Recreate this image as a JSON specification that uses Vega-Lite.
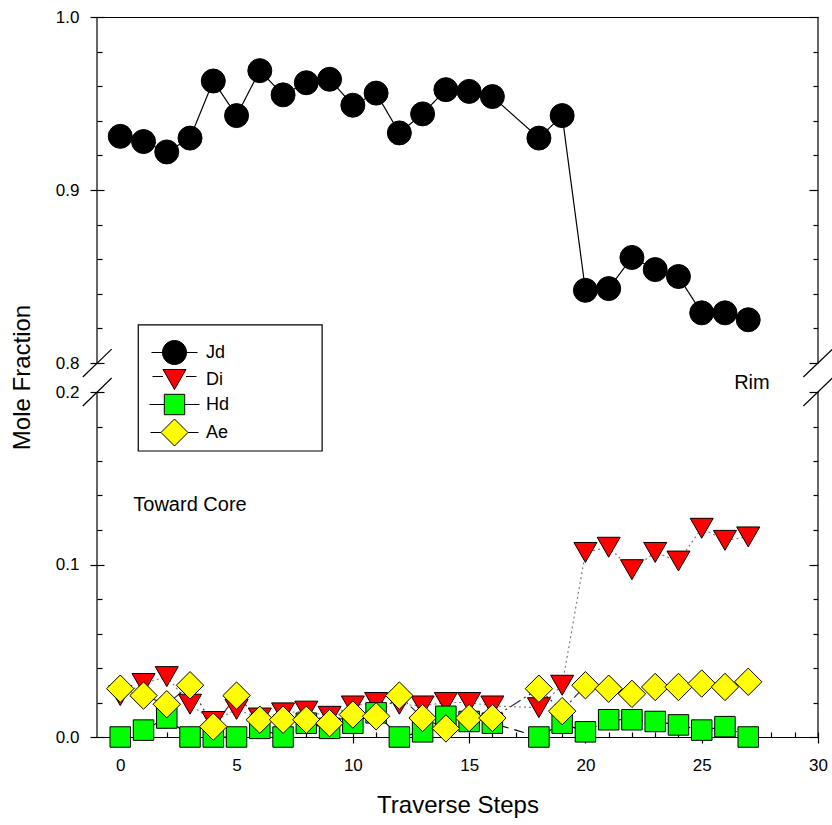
{
  "$schema": "https://vega.github.io/schema/vega-lite/v6.json",
  "width": 721,
  "height": 720,
  "autosize": {"type": "none"},
  "padding": {"left": 97, "top": 17, "right": 14, "bottom": 88},
  "background": "white",
  "config": {
    "view": {"stroke": null},
    "font": "Liberation Sans",
    "axis": {"grid": false, "domainColor": "black", "tickColor": "black", "labelColor": "black", "titleColor": "black", "labelFont": "Liberation Sans", "titleFont": "Liberation Sans", "titleFontWeight": "normal", "domainWidth": 1.2, "tickWidth": 1.2},
    "legend": {"labelFont": "Liberation Sans", "labelColor": "black"}
  },
  "datasets": {
    "main": [
      {"step": 0, "series": "Jd", "value": 0.931}, {"step": 1, "series": "Jd", "value": 0.928}, {"step": 2, "series": "Jd", "value": 0.922}, {"step": 3, "series": "Jd", "value": 0.930}, {"step": 4, "series": "Jd", "value": 0.963}, {"step": 5, "series": "Jd", "value": 0.943}, {"step": 6, "series": "Jd", "value": 0.969}, {"step": 7, "series": "Jd", "value": 0.955}, {"step": 8, "series": "Jd", "value": 0.962}, {"step": 9, "series": "Jd", "value": 0.964}, {"step": 10, "series": "Jd", "value": 0.949}, {"step": 11, "series": "Jd", "value": 0.956}, {"step": 12, "series": "Jd", "value": 0.933}, {"step": 13, "series": "Jd", "value": 0.944}, {"step": 14, "series": "Jd", "value": 0.958}, {"step": 15, "series": "Jd", "value": 0.957}, {"step": 16, "series": "Jd", "value": 0.954}, {"step": 18, "series": "Jd", "value": 0.930}, {"step": 19, "series": "Jd", "value": 0.943}, {"step": 20, "series": "Jd", "value": 0.842}, {"step": 21, "series": "Jd", "value": 0.843}, {"step": 22, "series": "Jd", "value": 0.861}, {"step": 23, "series": "Jd", "value": 0.854}, {"step": 24, "series": "Jd", "value": 0.850}, {"step": 25, "series": "Jd", "value": 0.829}, {"step": 26, "series": "Jd", "value": 0.829}, {"step": 27, "series": "Jd", "value": 0.825},
      {"step": 0, "series": "Di", "value": 0.024}, {"step": 1, "series": "Di", "value": 0.031}, {"step": 2, "series": "Di", "value": 0.035}, {"step": 3, "series": "Di", "value": 0.019}, {"step": 4, "series": "Di", "value": 0.009}, {"step": 5, "series": "Di", "value": 0.016}, {"step": 6, "series": "Di", "value": 0.011}, {"step": 7, "series": "Di", "value": 0.014}, {"step": 8, "series": "Di", "value": 0.015}, {"step": 9, "series": "Di", "value": 0.012}, {"step": 10, "series": "Di", "value": 0.018}, {"step": 11, "series": "Di", "value": 0.020}, {"step": 12, "series": "Di", "value": 0.019}, {"step": 13, "series": "Di", "value": 0.018}, {"step": 14, "series": "Di", "value": 0.020}, {"step": 15, "series": "Di", "value": 0.020}, {"step": 16, "series": "Di", "value": 0.018}, {"step": 18, "series": "Di", "value": 0.017}, {"step": 19, "series": "Di", "value": 0.030}, {"step": 20, "series": "Di", "value": 0.107}, {"step": 21, "series": "Di", "value": 0.110}, {"step": 22, "series": "Di", "value": 0.097}, {"step": 23, "series": "Di", "value": 0.107}, {"step": 24, "series": "Di", "value": 0.102}, {"step": 25, "series": "Di", "value": 0.121}, {"step": 26, "series": "Di", "value": 0.114}, {"step": 27, "series": "Di", "value": 0.116},
      {"step": 0, "series": "Hd", "value": 0.000}, {"step": 1, "series": "Hd", "value": 0.004}, {"step": 2, "series": "Hd", "value": 0.011}, {"step": 3, "series": "Hd", "value": 0.000}, {"step": 4, "series": "Hd", "value": 0.000}, {"step": 5, "series": "Hd", "value": 0.000}, {"step": 6, "series": "Hd", "value": 0.005}, {"step": 7, "series": "Hd", "value": 0.000}, {"step": 8, "series": "Hd", "value": 0.008}, {"step": 9, "series": "Hd", "value": 0.005}, {"step": 10, "series": "Hd", "value": 0.008}, {"step": 11, "series": "Hd", "value": 0.014}, {"step": 12, "series": "Hd", "value": 0.000}, {"step": 13, "series": "Hd", "value": 0.003}, {"step": 14, "series": "Hd", "value": 0.012}, {"step": 15, "series": "Hd", "value": 0.009}, {"step": 16, "series": "Hd", "value": 0.008}, {"step": 18, "series": "Hd", "value": 0.000}, {"step": 19, "series": "Hd", "value": 0.008}, {"step": 20, "series": "Hd", "value": 0.003}, {"step": 21, "series": "Hd", "value": 0.010}, {"step": 22, "series": "Hd", "value": 0.010}, {"step": 23, "series": "Hd", "value": 0.009}, {"step": 24, "series": "Hd", "value": 0.007}, {"step": 25, "series": "Hd", "value": 0.004}, {"step": 26, "series": "Hd", "value": 0.006}, {"step": 27, "series": "Hd", "value": 0.000},
      {"step": 0, "series": "Ae", "value": 0.028}, {"step": 1, "series": "Ae", "value": 0.024}, {"step": 2, "series": "Ae", "value": 0.019}, {"step": 3, "series": "Ae", "value": 0.030}, {"step": 4, "series": "Ae", "value": 0.006}, {"step": 5, "series": "Ae", "value": 0.024}, {"step": 6, "series": "Ae", "value": 0.010}, {"step": 7, "series": "Ae", "value": 0.010}, {"step": 8, "series": "Ae", "value": 0.010}, {"step": 9, "series": "Ae", "value": 0.008}, {"step": 10, "series": "Ae", "value": 0.013}, {"step": 11, "series": "Ae", "value": 0.012}, {"step": 12, "series": "Ae", "value": 0.024}, {"step": 13, "series": "Ae", "value": 0.011}, {"step": 14, "series": "Ae", "value": 0.005}, {"step": 15, "series": "Ae", "value": 0.011}, {"step": 16, "series": "Ae", "value": 0.011}, {"step": 18, "series": "Ae", "value": 0.028}, {"step": 19, "series": "Ae", "value": 0.015}, {"step": 20, "series": "Ae", "value": 0.030}, {"step": 21, "series": "Ae", "value": 0.028}, {"step": 22, "series": "Ae", "value": 0.025}, {"step": 23, "series": "Ae", "value": 0.029}, {"step": 24, "series": "Ae", "value": 0.029}, {"step": 25, "series": "Ae", "value": 0.031}, {"step": 26, "series": "Ae", "value": 0.029}, {"step": 27, "series": "Ae", "value": 0.032}
    ],
    "frame": [
      {"fx": -1, "lo": 0, "hi": 0.2}, {"fx": -1, "lo": 0.8, "hi": 1.0},
      {"fx": 30, "lo": 0, "hi": 0.2}, {"fx": 30, "lo": 0.8, "hi": 1.0}
    ],
    "breaks": [
      {"bx": -1.61, "bx2": -0.37, "by": 0.51, "by2": 0.808},
      {"bx": -1.61, "bx2": -0.37, "by": 0.1919, "by2": 0.49},
      {"bx": 29.37, "bx2": 30.62, "by": 0.51, "by2": 0.808},
      {"bx": 29.37, "bx2": 30.62, "by": 0.1919, "by2": 0.49}
    ]
  },
  "resolve": {"axis": {"x": "independent", "y": "independent"}},
  "layer": [
    {
      "data": {"name": "main"},
      "mark": {"type": "line", "strokeWidth": 1.2},
      "encoding": {
        "x": {"field": "step", "type": "quantitative", "scale": {"domain": [-1, 30], "nice": false, "zero": false},
          "axis": {"orient": "bottom", "values": [0, 5, 10, 15, 20, 25, 30], "format": "d", "tickSize": 6, "labelFontSize": 17, "labelPadding": 14, "labelFlush": false, "labelOverlap": false, "domain": true, "title": "Traverse Steps", "titleFontSize": 24, "titleY": 68, "titleBaseline": "middle"}},
        "y": {"field": "value", "type": "quantitative", "scale": {"domain": [0, 0.2, 0.8, 1.0], "range": [720, 375, 346, 0], "nice": false, "zero": false},
          "axis": {"orient": "left", "values": [0, 0.1, 0.2, 0.8, 0.9, 1.0], "format": ".1f", "tickSize": 7, "labelPadding": 11, "labelFontSize": 17, "labelFlush": false, "labelOverlap": false, "domain": false, "title": "Mole Fraction", "titleFontSize": 24, "titleX": -75, "titleBaseline": "middle"}},
        "stroke": {"field": "series", "type": "nominal", "scale": {"domain": ["Ae", "Hd", "Di", "Jd"], "range": ["#333333", "#000000", "#808080", "#000000"]}, "legend": null},
        "strokeDash": {"field": "series", "type": "nominal", "scale": {"domain": ["Ae", "Hd", "Di", "Jd"], "range": [[12, 4, 2, 4, 2, 4], [10, 6], [2, 3], [1, 0]]}, "legend": null}
      }
    },
    {
      "data": {"name": "main"},
      "mark": {"type": "point", "filled": true, "stroke": "black", "strokeWidth": 1, "opacity": 1},
      "encoding": {
        "x": {"field": "step", "type": "quantitative", "scale": {"domain": [-1, 30], "nice": false, "zero": false},
          "axis": {"orient": "bottom", "values": [0,1,2,3,4,5,6,7,8,9,10,11,12,13,14,15,16,17,18,19,20,21,22,23,24,25,26,27,28,29,30], "tickSize": -5, "labels": false, "domain": false, "title": null}},
        "y": {"field": "value", "type": "quantitative", "scale": {"domain": [0, 0.2, 0.8, 1.0], "range": [720, 375, 346, 0], "nice": false, "zero": false},
          "axis": {"orient": "left", "values": [0.02, 0.04, 0.06, 0.08, 0.12, 0.14, 0.16, 0.18, 0.82, 0.84, 0.86, 0.88, 0.92, 0.94, 0.96, 0.98], "tickSize": -5, "labels": false, "domain": false, "title": null}},
        "fill": {"field": "series", "type": "nominal", "sort": null, "scale": {"domain": ["Jd", "Di", "Hd", "Ae"], "range": ["#000000", "#FF0000", "#00FF00", "#FFFF00"]},
          "legend": {"title": null, "orient": "none", "legendX": 67, "legendY": 325, "padding": 0, "labelFontSize": 18, "labelOffset": 21, "rowPadding": 0, "symbolSize": 400, "symbolOpacity": 1, "symbolStrokeColor": "black", "symbolStrokeWidth": 1,
            "encode": {"symbols": {"update": {
              "shape": {"signal": "datum.value === 'Jd' ? 'M-2.3,0L-1.2,0M1.2,0L2.3,0M1.2,0A1.2,1.2,0,1,1,-1.2,0A1.2,1.2,0,1,1,1.2,0Z' : datum.value === 'Di' ? 'M-2.2,-0.3L-1.15,-0.3M1.15,-0.3L2.2,-0.3M-1.15,-1L1.15,-1L0,1Z' : datum.value === 'Hd' ? 'M-2.5,0L-1.02,0M1.02,0L2.5,0M-1.02,-1.02L1.02,-1.02L1.02,1.02L-1.02,1.02Z' : 'M-2.4,0L-1.35,0M1.35,0L2.4,0M-1.35,0L0,-1.35L1.35,0L0,1.35Z'"},
              "size": {"value": 400},
              "stroke": {"value": "black"},
              "strokeWidth": {"value": 1}
            }}}}},
        "shape": {"field": "series", "type": "nominal", "scale": {"type": "ordinal", "domain": ["Ae", "Hd", "Di", "Jd"], "range": ["diamond", "square", "triangle-down", "circle"]}, "legend": null},
        "size": {"field": "series", "type": "nominal", "scale": {"type": "ordinal", "domain": ["Ae", "Hd", "Di", "Jd"], "range": [750, 420, 530, 576]}, "legend": null}
      }
    },
    {
      "data": {"name": "frame"},
      "mark": {"type": "rule", "color": "black", "strokeWidth": 1.2},
      "encoding": {
        "x": {"field": "fx", "type": "quantitative", "scale": {"domain": [-1, 30], "nice": false, "zero": false},
          "axis": {"orient": "top", "values": [], "ticks": false, "labels": false, "domain": true, "title": null}},
        "y": {"field": "lo", "type": "quantitative", "scale": {"domain": [0, 0.2, 0.8, 1.0], "range": [720, 375, 346, 0], "nice": false, "zero": false},
          "axis": {"orient": "right", "values": [0.02, 0.04, 0.06, 0.08, 0.12, 0.14, 0.16, 0.18, 0.82, 0.84, 0.86, 0.88, 0.92, 0.94, 0.96, 0.98], "tickSize": -5, "labels": false, "domain": false, "title": null}},
        "y2": {"field": "hi"}
      }
    },
    {
      "data": {"name": "breaks"},
      "mark": {"type": "rule", "color": "black", "strokeWidth": 1.2},
      "encoding": {
        "x": {"field": "bx", "type": "quantitative", "scale": {"domain": [-1, 30], "nice": false, "zero": false}, "axis": null},
        "x2": {"field": "bx2"},
        "y": {"field": "by", "type": "quantitative", "scale": {"domain": [0, 0.2, 0.8, 1.0], "range": [720, 375, 346, 0], "nice": false, "zero": false},
          "axis": {"orient": "right", "values": [0, 0.1, 0.2, 0.8, 0.9, 1.0], "tickSize": -9, "labels": false, "domain": false, "title": null}},
        "y2": {"field": "by2"}
      }
    },
    {
      "data": {"values": [{}]},
      "mark": {"type": "rect", "fillOpacity": 0, "stroke": "black", "strokeWidth": 1.2},
      "encoding": {
        "x": {"datum": 0.774, "type": "quantitative", "scale": {"domain": [-1, 30], "nice": false, "zero": false}, "axis": null},
        "x2": {"datum": 8.68},
        "y": {"datum": 0.822, "type": "quantitative", "scale": {"domain": [0, 0.2, 0.8, 1.0], "range": [720, 375, 346, 0], "nice": false, "zero": false},
          "axis": {"orient": "left", "values": [0, 0.1, 0.2, 0.8, 0.9, 1.0], "tickSize": -7, "labels": false, "domain": false, "title": null}},
        "y2": {"datum": 0.1658}
      }
    },
    {
      "data": {"values": [{}]},
      "mark": {"type": "text", "text": "Toward Core", "align": "left", "baseline": "middle", "fontSize": 20, "color": "black"},
      "encoding": {
        "x": {"datum": 0.56, "type": "quantitative", "scale": {"domain": [-1, 30], "nice": false, "zero": false}, "axis": null},
        "y": {"datum": 0.1345, "type": "quantitative", "scale": {"domain": [0, 0.2, 0.8, 1.0], "range": [720, 375, 346, 0], "nice": false, "zero": false}, "axis": null}
      }
    },
    {
      "data": {"values": [{}]},
      "mark": {"type": "text", "text": "Rim", "align": "center", "baseline": "middle", "fontSize": 20, "color": "black"},
      "encoding": {
        "x": {"datum": 27.16, "type": "quantitative", "scale": {"domain": [-1, 30], "nice": false, "zero": false}, "axis": null},
        "y": {"datum": 0.386, "type": "quantitative", "scale": {"domain": [0, 0.2, 0.8, 1.0], "range": [720, 375, 346, 0], "nice": false, "zero": false}, "axis": null}
      }
    }
  ]
}
